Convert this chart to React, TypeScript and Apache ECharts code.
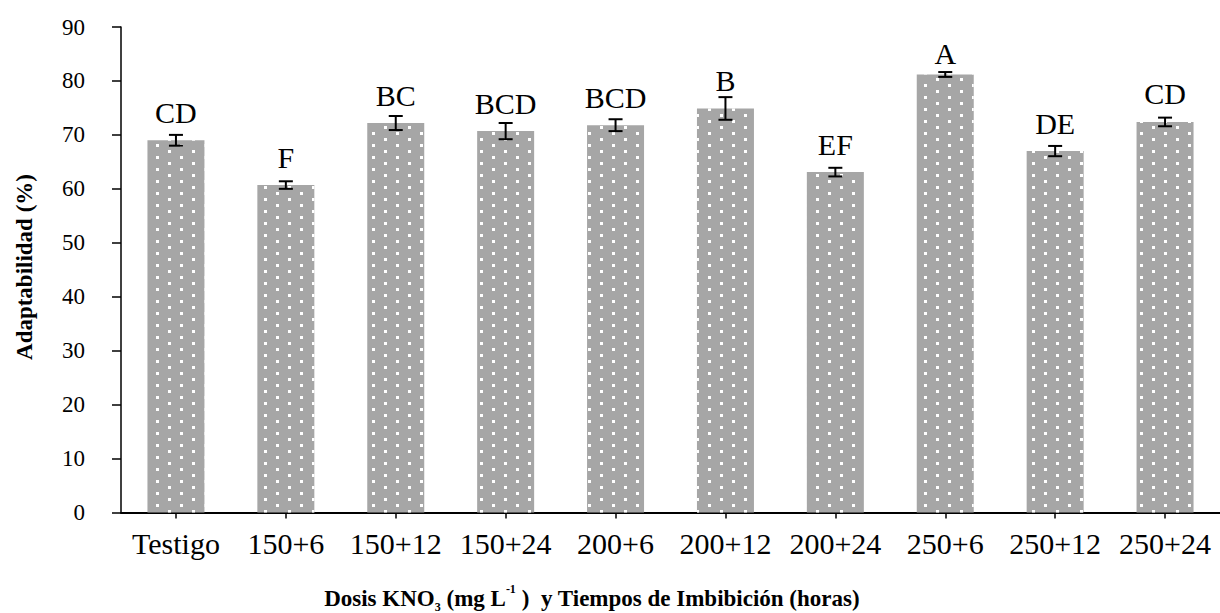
import React, { useEffect, useRef } from "react";
import * as echarts from "echarts";

const categories = ["Testigo", "150+6", "150+12", "150+24", "200+6", "200+12", "200+24", "250+6", "250+12", "250+24"];
const means = [69.0, 60.7, 72.2, 70.7, 71.8, 74.9, 63.1, 81.2, 67.0, 72.4];
const errors = [1.0, 0.7, 1.3, 1.5, 1.1, 2.1, 0.8, 0.45, 0.95, 0.8];
const letters = ["CD", "F", "BC", "BCD", "BCD", "B", "EF", "A", "DE", "CD"];
const yMin = 0;
const yMax = 90;
const yStep = 10;

const SERIF = '"Liberation Serif", "Times New Roman", serif';
const GRID_TOP = 27;

export default function App() {
  const ref = useRef<HTMLDivElement>(null);
  useEffect(() => {
    if (!ref.current) return;
    const chart = echarts.init(ref.current, undefined, { renderer: "svg" });
    const errData = means.map((m, i) => [i, m, errors[i]]);
    chart.setOption({
      animation: false,
      backgroundColor: "#ffffff",
      grid: { left: 121, top: GRID_TOP, width: 1110, height: 485.5, containLabel: false },
      xAxis: {
        type: "category",
        data: categories,
        boundaryGap: true,
        axisLine: { show: true, lineStyle: { color: "#000", width: 2 } },
        axisTick: { show: true, alignWithLabel: true, interval: 0, length: 6, lineStyle: { color: "#000", width: 1.5 } },
        axisLabel: { color: "#000", fontFamily: SERIF, fontSize: 30, margin: 16, interval: 0, hideOverlap: false },
        splitLine: { show: false },
      },
      yAxis: {
        type: "value",
        min: yMin,
        max: yMax,
        interval: yStep,
        axisLine: { show: true, lineStyle: { color: "#000", width: 1.5 } },
        axisTick: { show: true, inside: false, length: 9, lineStyle: { color: "#000", width: 1.5 } },
        axisLabel: { color: "#000", fontFamily: SERIF, fontSize: 23, margin: 36 },
        splitLine: { show: false },
      },
      series: [
        {
          type: "bar",
          data: means,
          barWidth: 57,
          itemStyle: {
            color: "#a6a6a6",
            decal: {
              symbol: "rect",
              symbolSize: 1,
              color: "#ffffff",
              dashArrayX: [[3, 21], [0, 12, 3, 9]],
              dashArrayY: [3, 3],
              rotation: 0,
            },
          },
          z: 2,
        },
        {
          type: "custom",
          data: errData,
          encode: { x: 0, y: 1 },
          z: 5,
          renderItem: (params: any, api: any) => {
            const idx = params.dataIndex;
            const i = api.value(0);
            const m = api.value(1);
            const e = api.value(2);
            const hi = api.coord([i, m + e]);
            const lo = api.coord([i, m - e]);
            const mid = api.coord([i, m]);
            const x = hi[0];
            const half = 7;
            const baseline = Math.max(mid[1] - 19, GRID_TOP + 35);
            const stroke = { stroke: "#000", lineWidth: 2 };
            return {
              type: "group",
              children: [
                { type: "line", shape: { x1: x, y1: hi[1], x2: x, y2: lo[1] }, style: stroke },
                { type: "line", shape: { x1: x - half, y1: hi[1], x2: x + half, y2: hi[1] }, style: stroke },
                { type: "line", shape: { x1: x - half, y1: lo[1], x2: x + half, y2: lo[1] }, style: stroke },
                {
                  type: "text",
                  x: x,
                  y: baseline + 6,
                  style: {
                    text: letters[idx],
                    fill: "#000",
                    fontFamily: SERIF,
                    fontSize: 30,
                    align: "center",
                    verticalAlign: "bottom",
                  },
                },
              ],
            };
          },
        },
      ],
      graphic: [
        {
          type: "text",
          x: 24,
          y: 267,
          rotation: Math.PI / 2,
          style: {
            text: "Adaptabilidad (%)",
            fill: "#000",
            fontFamily: SERIF,
            fontWeight: "bold",
            fontSize: 23,
            align: "center",
            verticalAlign: "middle",
          },
        },
        {
          type: "text",
          x: 592,
          y: 598,
          style: {
            text: "{a|Dosis KNO}{sub|3}{a| (mg L}{sup|-1}{a| )  y Tiempos de Imbibición (horas)}",
            align: "center",
            verticalAlign: "middle",
            rich: {
              a: { fontFamily: SERIF, fontWeight: "bold", fontSize: 23, fill: "#000", color: "#000", lineHeight: 30, verticalAlign: "middle" },
              sub: { fontFamily: SERIF, fontWeight: "bold", fontSize: 12, fill: "#000", color: "#000", verticalAlign: "bottom" },
              sup: { fontFamily: SERIF, fontWeight: "bold", fontSize: 12, fill: "#000", color: "#000", verticalAlign: "top" },
            },
          },
        },
      ],
    });
    return () => chart.dispose();
  }, []);
  return <div ref={ref} style={{ position: "fixed", left: 0, top: 0, width: 1220, height: 613 }} />;
}
